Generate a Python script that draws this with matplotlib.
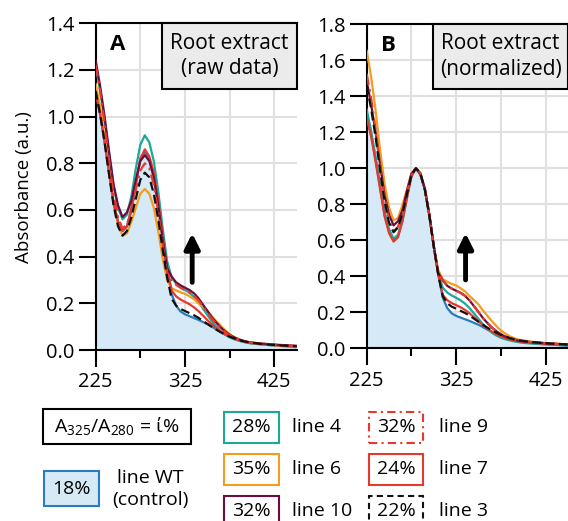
import numpy as np
import matplotlib.pyplot as plt
from matplotlib.patches import Rectangle

plt.rcParams['font.family'] = ['Open Sans', 'DejaVu Sans']
plt.rcParams['mathtext.fontset'] = 'custom'
plt.rcParams['mathtext.rm'] = 'Open Sans'

# wavelength (nm)
wl = list(range(225, 401, 5)) + [410, 420, 430, 440, 450]

# raw absorbance
a_wt = [1.10, 1.01, 0.89, 0.76, 0.63, 0.55, 0.51, 0.53, 0.60, 0.71, 0.82, 0.85,
        0.82, 0.75, 0.63, 0.48, 0.35, 0.24, 0.19, 0.165, 0.153, 0.145,
        0.137, 0.129, 0.120, 0.111, 0.100, 0.088, 0.077, 0.066, 0.057, 0.049,
        0.042, 0.036, 0.031, 0.028, 0.025, 0.021, 0.018, 0.015, 0.012]
a_l4 = [1.22, 1.11, 0.98, 0.84, 0.70, 0.61, 0.56, 0.58, 0.66, 0.78, 0.88, 0.92,
        0.89, 0.81, 0.68, 0.52, 0.38, 0.31, 0.285, 0.27, 0.258, 0.245,
        0.228, 0.205, 0.178, 0.15, 0.123, 0.10, 0.08, 0.065, 0.054, 0.046,
        0.040, 0.035, 0.031, 0.028, 0.024, 0.021, 0.019, 0.017, 0.015]
a_l6 = [1.14, 1.04, 0.91, 0.76, 0.63, 0.54, 0.49, 0.50, 0.55, 0.61, 0.67, 0.69,
        0.67, 0.61, 0.51, 0.39, 0.30, 0.265, 0.255, 0.247, 0.241, 0.230,
        0.218, 0.200, 0.185, 0.168, 0.145, 0.124, 0.104, 0.085, 0.068, 0.056,
        0.046, 0.039, 0.033, 0.030, 0.025, 0.022, 0.019, 0.017, 0.015]
a_l10 = [1.24, 1.13, 1.00, 0.85, 0.71, 0.62, 0.57, 0.59, 0.64, 0.73, 0.81, 0.835,
         0.81, 0.74, 0.62, 0.47, 0.35, 0.315, 0.29, 0.277, 0.267, 0.257,
         0.243, 0.222, 0.195, 0.168, 0.14, 0.117, 0.096, 0.079, 0.065, 0.054,
         0.046, 0.040, 0.035, 0.032, 0.028, 0.025, 0.022, 0.020, 0.018]
a_l9 = [1.22, 1.11, 0.97, 0.81, 0.67, 0.57, 0.52, 0.54, 0.60, 0.69, 0.77, 0.80,
        0.78, 0.71, 0.59, 0.45, 0.33, 0.30, 0.28, 0.266, 0.256, 0.246,
        0.233, 0.213, 0.187, 0.16, 0.134, 0.112, 0.092, 0.076, 0.063, 0.053,
        0.045, 0.039, 0.034, 0.031, 0.027, 0.024, 0.021, 0.019, 0.017]
a_l7 = [1.10, 1.01, 0.89, 0.76, 0.63, 0.55, 0.51, 0.53, 0.61, 0.72, 0.82, 0.86,
        0.83, 0.76, 0.64, 0.49, 0.35, 0.255, 0.23, 0.216, 0.206, 0.196,
        0.183, 0.167, 0.148, 0.128, 0.110, 0.094, 0.080, 0.067, 0.057, 0.049,
        0.042, 0.037, 0.033, 0.030, 0.026, 0.023, 0.020, 0.018, 0.016]
a_l3 = [1.11, 1.01, 0.89, 0.75, 0.62, 0.53, 0.49, 0.51, 0.57, 0.65, 0.73, 0.76,
        0.74, 0.67, 0.56, 0.43, 0.31, 0.22, 0.19, 0.176, 0.167, 0.158,
        0.149, 0.138, 0.125, 0.112, 0.099, 0.087, 0.076, 0.066, 0.057, 0.050,
        0.043, 0.038, 0.034, 0.031, 0.026, 0.023, 0.020, 0.018, 0.016]

names = ['line 4', 'line 6', 'line 10', 'line 9', 'line 7', 'line 3']
ratios = ['28%', '35%', '32%', '32%', '24%', '22%']
wt_ratio = '18%'

WT_C = '#2a7bbf'
WT_FILL = '#d6e9f6'
DASHDOT = (0, (5, 2, 1.2, 2))
DASHED = (0, (4, 2))
series = [  # color, linestyle   (draw order after WT)
    ('#19a89a', '-'),
    ('#f39c1f', '-'),
    ('#e6392d', '-'),
    ('#6a0d3e', '-'),
    ('#e6392d', DASHDOT),
    ('#111111', DASHED),
]
legend_style = {
    'line 4': ('#19a89a', '-'), 'line 6': ('#f39c1f', '-'),
    'line 10': ('#6a0d3e', '-'), 'line 9': ('#e6392d', (0, (4, 2, 1, 2))),
    'line 7': ('#e6392d', '-'), 'line 3': ('#111111', (0, (3, 2))),
}

W, H = 568, 521
fig = plt.figure(figsize=(W / 100, H / 100), dpi=100)


def fx(px):
    return px / W


def fy(py):
    return 1 - py / H


def style_axes(ax, ymax):
    ax.set_xlim(225, 450)
    ax.set_ylim(0, ymax)
    ax.set_xticks([225, 325, 425])
    ax.set_xticks([275, 375], minor=True)
    ax.set_yticks(np.arange(0, ymax + 0.01, 0.2))
    ax.set_yticklabels(['%.1f' % v for v in np.arange(0, ymax + 0.01, 0.2)])
    ax.grid(True, which='both', axis='x', color='#e0e0e0', lw=1.5, zorder=0)
    ax.grid(True, which='major', axis='y', color='#e0e0e0', lw=1.5, zorder=0)
    ax.set_axisbelow(True)
    ax.spines['right'].set_visible(False)
    for s in ['left', 'bottom', 'top']:
        ax.spines[s].set_linewidth(1.5)
    ax.tick_params(which='major', length=12, width=1.5, labelsize=14.5, pad=4)
    ax.tick_params(which='minor', length=6, width=1.5)
    ax.tick_params(axis='y', pad=3)


def draw_panel(ax, data, ymax, letter, title, arrow):
    wt = data[0]
    ax.fill_between(wl, 0, wt, color=WT_FILL, lw=0, zorder=1)
    ax.plot(wl, wt, color=WT_C, lw=1.6, zorder=2)
    for vals, (c, ls) in zip(data[1:], series):
        ax.plot(wl, vals, color=c, ls=ls, lw=1.6, zorder=3)
    style_axes(ax, ymax)
    ax.text(0.11, 0.935, letter, transform=ax.transAxes, fontsize=16,
            fontweight='bold', ha='center', va='center')
    ax.add_patch(Rectangle((0.33, 0.80), 0.67, 0.20, transform=ax.transAxes,
                           facecolor='#ebebeb', edgecolor='black', lw=1.5,
                           zorder=5, clip_on=False))
    ax.text(0.665, 0.90, title, transform=ax.transAxes, fontsize=15,
            ha='center', va='center', zorder=6, linespacing=1.3)
    ax.annotate('', xy=(arrow[0], arrow[2]), xytext=(arrow[0], arrow[1]),
                arrowprops=dict(arrowstyle='-|>,head_length=0.9,head_width=0.45',
                                lw=3.5, color='black', shrinkA=0, shrinkB=0),
                zorder=6)


raw = [a_wt, a_l4, a_l6, a_l7, a_l10, a_l9, a_l3]
i280 = wl.index(280)
norm = [np.array(v) / v[i280] for v in raw]

axA = fig.add_axes([fx(95.7), fy(350), fx(296.7) - fx(95.7), fy(23.3) - fy(350)])
draw_panel(axA, raw, 1.4, 'A', 'Root extract\n(raw data)', (333, 0.29, 0.50))
axA.set_ylabel('Absorbance (a.u.)', fontsize=13.5)
axA.yaxis.set_label_coords(-0.31, 0.5)

axB = fig.add_axes([fx(366.7), fy(348.3), 1 - fx(366.7), fy(24.3) - fy(348.3)])
draw_panel(axB, norm, 1.8, 'B', 'Root extract\n(normalized)', (335.5, 0.38, 0.64))


# legend block drawn in figure pixels
def box(x0, y0, x1, y1, ec, fc='white', ls='-'):
    fig.add_artist(Rectangle((fx(x0), fy(y1)), (x1 - x0) / W, (y1 - y0) / H,
                             transform=fig.transFigure, facecolor=fc,
                             edgecolor=ec, lw=1.5, ls=ls))


box(43, 409, 191, 444, 'black')
fig.text(fx(117), fy(427), r'A$_{\mathrm{325}}$/A$_{\mathrm{280}}$ = ί%',
         fontsize=14, ha='center', va='center')

box(44, 471, 99, 506, WT_C, fc=WT_FILL)
fig.text(fx(71.5), fy(488.5), wt_ratio, fontsize=14, ha='center', va='center')
fig.text(fx(150), fy(489), 'line WT\n(control)', fontsize=14, ha='center',
         va='center', linespacing=1.3)

row_y = [427.5, 469.5, 511.5]
col_x = [(224, 279, 292), (369, 423, 439)]
for i, (nm, r) in enumerate(zip(names, ratios)):
    cx0, cx1, tx = col_x[i // 3]
    cy = row_y[i % 3]
    c, ls = legend_style[nm]
    box(cx0, cy - 15.5, cx1, cy + 15.5, c, ls=ls)
    fig.text(fx((cx0 + cx1) / 2), fy(cy), r, fontsize=14, ha='center',
             va='center')
    fig.text(fx(tx), fy(cy), nm, fontsize=14, ha='left', va='center')

fig.savefig('out.png', dpi=100)
